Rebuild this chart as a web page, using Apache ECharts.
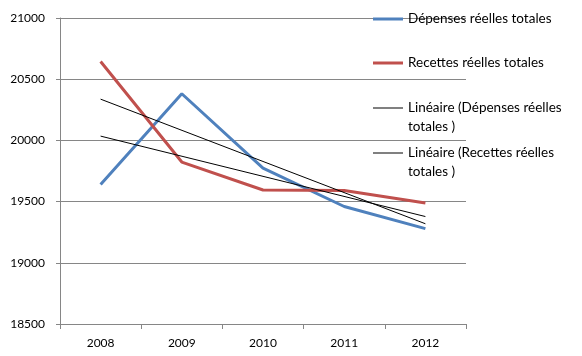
<!DOCTYPE html>
<html>
<head>
<meta charset="utf-8">
<script src="https://cdn.jsdelivr.net/npm/echarts@6/dist/echarts.min.js"></script>
<style>
html,body{margin:0;padding:0;background:#fff;}
#c{width:582px;height:356px;}
</style>
</head>
<body>
<div id="c"></div>
<script>
var categories = ['2008', '2009', '2010', '2011', '2012'];
var depenses = [19640, 20381, 19774, 19460, 19279];
var recettes = [20645, 19823, 19595, 19590, 19489];
var trendDepenses = [20035, null, null, null, 19378];
var trendRecettes = [20337, null, null, null, 19319];
var yTicks = { min: 18500, max: 21000, step: 500 };
var names = ['Dépenses réelles totales', 'Recettes réelles totales',
  'Linéaire (Dépenses réelles totales )', 'Linéaire (Recettes réelles totales )'];
var legendText = ['Dépenses réelles totales', 'Recettes réelles totales',
  '\nLinéaire (Dépenses réelles\ntotales )', '\nLinéaire (Recettes réelles\ntotales )'];

var FONT = 'Lato';
var chart = echarts.init(document.getElementById('c'), null, { renderer: 'canvas' });
var legendTops = [9.5, 53.5, 79.5, 124.5];
var iconH = [3, 3, 1, 1];
var legends = names.map(function (n, i) {
  return {
    data: [n], left: 373, top: legendTops[i], orient: 'vertical', padding: 0,
    itemWidth: 30, itemHeight: iconH[i], icon: 'rect', selectedMode: false,
    formatter: function () { return legendText[i]; },
    textStyle: { fontFamily: FONT, fontSize: 13.5, color: '#000', lineHeight: 19 }
  };
});
chart.setOption({
  animation: false,
  backgroundColor: '#fff',
  grid: { left: 60, right: 116, top: 18, bottom: 32 },
  legend: legends,
  xAxis: {
    type: 'category', data: categories, boundaryGap: true,
    axisLine: { lineStyle: { color: '#868686', width: 1 } },
    axisTick: { show: true, length: 5, alignWithLabel: false, lineStyle: { color: '#868686' } },
    axisLabel: { fontFamily: FONT, fontSize: 12, color: '#000', margin: 13 }
  },
  yAxis: {
    type: 'value', min: yTicks.min, max: yTicks.max, interval: yTicks.step,
    axisLine: { show: true, lineStyle: { color: '#868686', width: 1 } },
    axisTick: { show: true, length: 4, lineStyle: { color: '#868686' } },
    splitLine: { lineStyle: { color: '#868686', width: 1 } },
    axisLabel: { fontFamily: FONT, fontSize: 12, color: '#000', margin: 15,
      formatter: function (v) { return String(v); } }
  },
  series: [
    { name: names[0], type: 'line', data: depenses, symbol: 'none', z: 3,
      lineStyle: { color: '#4F81BD', width: 3 }, itemStyle: { color: '#4F81BD' } },
    { name: names[1], type: 'line', data: recettes, symbol: 'none', z: 3,
      lineStyle: { color: '#C0504D', width: 3 }, itemStyle: { color: '#C0504D' } },
    { name: names[2], type: 'line', data: trendDepenses, symbol: 'none', connectNulls: true, z: 4,
      lineStyle: { color: '#000', width: 1 }, itemStyle: { color: '#000' } },
    { name: names[3], type: 'line', data: trendRecettes, symbol: 'none', connectNulls: true, z: 4,
      lineStyle: { color: '#000', width: 1 }, itemStyle: { color: '#000' } }
  ]
});
</script>
</body>
</html>
